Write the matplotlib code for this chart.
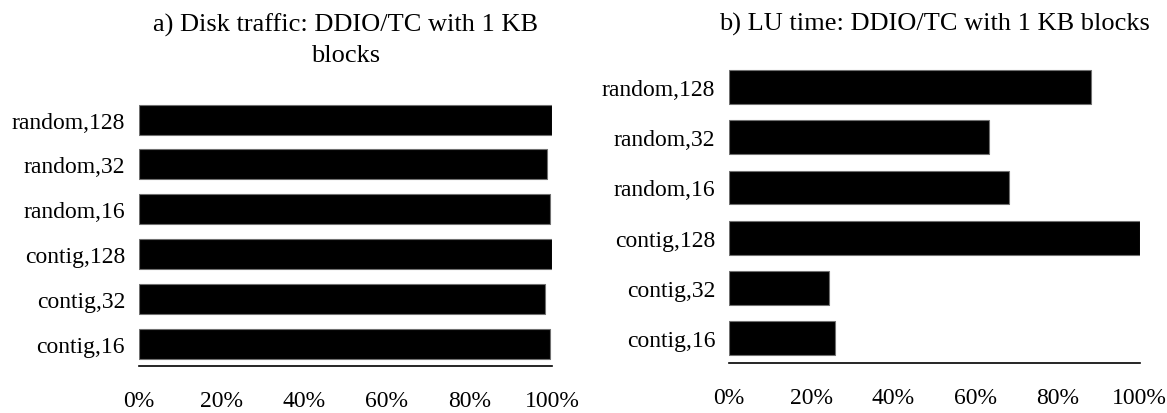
import numpy as np
import matplotlib
matplotlib.use("Agg")
import matplotlib.pyplot as plt
from matplotlib.ticker import PercentFormatter

plt.rcParams['font.family'] = ['Liberation Serif', 'DejaVu Serif']

# categories, bottom to top
labels = ["contig,16", "contig,32", "contig,128", "random,16", "random,32", "random,128"]
disk_traffic = [0.996, 0.984, 1.0, 0.994, 0.989, 1.0]
lu_time = [0.257, 0.244, 1.0, 0.681, 0.634, 0.881]
xticks = [0, 0.2, 0.4, 0.6, 0.8, 1.0]

fig = plt.figure(figsize=(11.67, 4.14), dpi=100)
ax1 = fig.add_axes([0.1191, 0.1135, 0.3539, 0.6493])
ax2 = fig.add_axes([0.6247, 0.1196, 0.3518, 0.7290])

panels = [
    (ax1, disk_traffic, "a) Disk traffic: DDIO/TC with 1 KB\nblocks", 26),
    (ax2, lu_time, "b) LU time: DDIO/TC with 1 KB blocks", 23),
]

for ax, vals, title, tpad in panels:
    y = np.arange(len(labels))
    ax.barh(y, vals, height=0.67, color='black', edgecolor='#707070', linewidth=0.8)
    ax.set_yticks(y)
    ax.set_yticklabels(labels, fontsize=17)
    ax.set_xticks(xticks)
    ax.xaxis.set_major_formatter(PercentFormatter(1.0, decimals=0))
    ax.set_xlim(0, 1.0)
    ax.set_ylim(-0.5, len(labels) - 0.5)
    ax.tick_params(axis='x', length=0, pad=17, labelsize=17)
    ax.tick_params(axis='y', length=0, pad=10)
    for s in ['top', 'right', 'left']:
        ax.spines[s].set_visible(False)
    ax.spines['bottom'].set_linewidth(1.2)
    ax.set_title(title, fontsize=19, pad=tpad, linespacing=1.47)

fig.savefig("out.png", dpi=100)
